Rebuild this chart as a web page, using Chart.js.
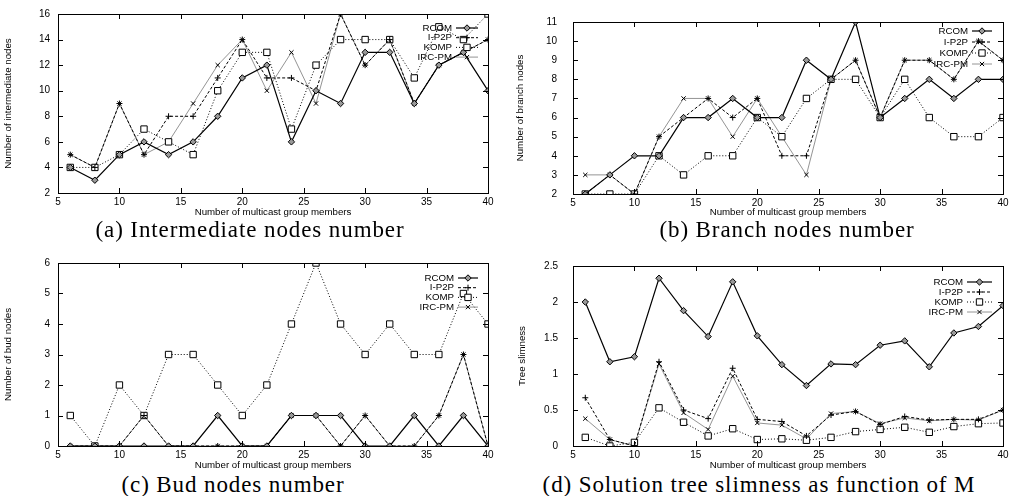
<!DOCTYPE html>
<html><head><meta charset="utf-8">
<script src="https://cdn.jsdelivr.net/npm/chart.js@4.4.0/dist/chart.umd.min.js"></script>
<style>
body{margin:0;background:#fff;width:1017px;height:496px;overflow:hidden;position:relative;}
canvas{position:absolute;}
.cap{position:absolute;font-family:"Liberation Serif",serif;font-size:23px;letter-spacing:0.9px;white-space:nowrap;color:#000;transform:translate(-50%,-50%);}
</style></head><body>
<canvas id="ca"></canvas><canvas id="cb"></canvas><canvas id="cc"></canvas><canvas id="cd"></canvas>
<div class="cap" style="left:250px;top:230px">(a) Intermediate nodes number</div>
<div class="cap" style="left:787px;top:230px">(b) Branch nodes number</div>
<div class="cap" style="left:233px;top:485px">(c) Bud nodes number</div>
<div class="cap" style="left:759px;top:485px">(d) Solution tree slimness as function of M</div>
<script>
const members = [6,8,10,12,14,16,18,20,22,24,26,28,30,32,34,36,38,40];
const seriesNames = ['RCOM','I-P2P','KOMP','IRC-PM'];
const xTicks = [5,10,15,20,25,30,35,40];
const xTitle = 'Number of multicast group members';

const interRCOM = [4,3,5,6,5,6,8,11,12,6,10,9,13,13,9,12,13,10];
const interIP2P = [5,4,9,5,8,8,11,14,11,11,10,16,12,14,9,12,13,14];
const interKOMP = [4,4,5,7,6,5,10,13,13,7,12,14,14,14,11,15,14,16];
const interIRC  = [5,4,9,5,6,9,12,14,10,13,9,16,12,14,9,12,13,14];
const interTicks = [2,4,6,8,10,12,14,16];

const branchRCOM = [2,3,4,4,6,6,7,6,6,9,8,11,6,7,8,7,8,8];
const branchIP2P = [2,3,2,5,6,7,6,7,4,4,8,9,6,9,9,8,10,9];
const branchKOMP = [2,2,2,4,3,4,4,6,5,7,8,8,6,8,6,5,5,6];
const branchIRC  = [3,3,2,5,7,7,5,7,5,3,8,9,6,9,9,8,10,9];
const branchTicks = [2,3,4,5,6,7,8,9,10,11];

const budRCOM = [0,0,0,0,0,0,1,0,0,1,1,1,0,0,1,0,1,0];
const budIP2P = [0,0,0,1,0,0,0,0,0,1,1,0,1,0,0,1,3,0];
const budKOMP = [1,0,2,1,3,3,2,1,2,4,6,4,3,4,3,3,5,4];
const budIRC  = [0,0,0,1,0,0,0,0,0,1,1,0,1,0,0,1,3,0];
const budTicks = [0,1,2,3,4,5,6];

const slimRCOM = [2.0,1.17,1.24,2.33,1.88,1.52,2.28,1.53,1.13,0.84,1.14,1.13,1.40,1.46,1.10,1.57,1.66,1.95];
const slimIP2P = [0.67,0.09,0.0,1.17,0.50,0.38,1.08,0.37,0.34,0.14,0.43,0.48,0.30,0.41,0.36,0.37,0.37,0.50];
const slimKOMP = [0.12,0.0,0.05,0.53,0.33,0.14,0.24,0.09,0.10,0.08,0.12,0.20,0.23,0.26,0.19,0.27,0.31,0.32];
const slimIRC  = [0.38,0.09,0.0,1.14,0.46,0.23,0.97,0.32,0.29,0.10,0.45,0.48,0.31,0.39,0.35,0.37,0.36,0.50];
const slimTicks = [0,0.5,1,1.5,2,2.5];

const styles = [
  {borderColor:'#000',borderWidth:1.2,borderDash:[],pointStyle:'rectRot',pointRadius:3.2,pointBackgroundColor:'#999',pointBorderColor:'#000',pointBorderWidth:1},
  {borderColor:'#000',borderWidth:1,borderDash:[3,2],pointStyle:'cross',pointRadius:3,pointBackgroundColor:'#000',pointBorderColor:'#000',pointBorderWidth:1},
  {borderColor:'#000',borderWidth:1,borderDash:[1,2],pointStyle:'rect',pointRadius:4.5,pointBackgroundColor:'#fff',pointBorderColor:'#000',pointBorderWidth:1},
  {borderColor:'#888',borderWidth:0.9,borderDash:[],pointStyle:'crossRot',pointRadius:3,pointBackgroundColor:'#000',pointBorderColor:'#000',pointBorderWidth:1}
];

function mkDatasets(arrs){
  return arrs.map((a,i)=>Object.assign({label:seriesNames[i],data:members.map((m,j)=>({x:m,y:a[j]})),tension:0,fill:false}, styles[i]));
}

function drawMark(ctx, ds, x, y){
  ctx.save();
  ctx.fillStyle = ds.pointBackgroundColor; ctx.strokeStyle = ds.pointBorderColor; ctx.lineWidth = ds.pointBorderWidth;
  ctx.setLineDash([]);
  if (Chart.helpers && Chart.helpers.drawPoint) {
    Chart.helpers.drawPoint(ctx,{pointStyle:ds.pointStyle,radius:ds.pointRadius,borderWidth:ds.pointBorderWidth,rotation:0},x,y);
  }
  ctx.restore();
}

const gpFrame = {
  id:'gpFrame',
  afterDatasetsDraw(chart, args, opts){
    const ctx = chart.ctx, a = chart.chartArea;
    const xs = chart.scales.x, ys = chart.scales.y;
    ctx.save();
    ctx.strokeStyle = '#000'; ctx.lineWidth = 1; ctx.setLineDash([]);
    ctx.strokeRect(Math.round(a.left)+0.5, Math.round(a.top)+0.5, Math.round(a.right-a.left), Math.round(a.bottom-a.top));
    ctx.beginPath();
    const L = 5;
    xs.ticks.forEach(t=>{ const px = Math.round(xs.getPixelForValue(t.value))+0.5;
      ctx.moveTo(px,a.bottom); ctx.lineTo(px,a.bottom-L); ctx.moveTo(px,a.top); ctx.lineTo(px,a.top+L); });
    ys.ticks.forEach(t=>{ const py = Math.round(ys.getPixelForValue(t.value))+0.5;
      ctx.moveTo(a.left,py); ctx.lineTo(a.left+L,py); ctx.moveTo(a.right,py); ctx.lineTo(a.right-L,py); });
    ctx.stroke();
    // legend (gnuplot style)
    ctx.font = '9.7px "Liberation Sans", Arial, sans-serif';
    ctx.textAlign = 'right'; ctx.textBaseline = 'middle';
    chart.data.datasets.forEach((ds,i)=>{
      const y = a.top + opts.top + i*opts.gap;
      const x2 = a.right - opts.right, x1 = x2 - opts.len;
      ctx.fillStyle = '#000';
      ctx.fillText(ds.label, x1 - 4, y);
      ctx.beginPath(); ctx.setLineDash(ds.borderDash); ctx.strokeStyle = ds.borderColor; ctx.lineWidth = ds.borderWidth;
      ctx.moveTo(x1,y); ctx.lineTo(x2,y); ctx.stroke(); ctx.setLineDash([]);
      drawMark(ctx, ds, (x1+x2)/2, y);
    });
    ctx.restore();
  }
};

const TFONT = {family:'"Liberation Sans", Arial, sans-serif', size:10};
const LFONT = {family:'"Liberation Sans", Arial, sans-serif', size:9.7};

function makeChart(id, P, arrs, yMin, yMax, yTicks, yTitle){
  const cv = document.getElementById(id);
  cv.width = P.w; cv.height = P.h;
  cv.style.left = P.left+'px'; cv.style.top = P.top+'px';
  cv.style.width = P.w+'px'; cv.style.height = P.h+'px';
  return new Chart(cv, {
    type:'line',
    data:{datasets: mkDatasets(arrs)},
    plugins:[gpFrame],
    options:{
      responsive:false, animation:false, devicePixelRatio:1,
      layout:{padding:{left:0, top:P.t, right:P.w-P.r, bottom:0}},
      plugins:{legend:{display:false}, tooltip:{enabled:false}, gpFrame:P.leg},
      scales:{
        x:{type:'linear', min:5, max:40, border:{display:false}, grid:{display:false, drawTicks:false},
           afterBuildTicks(s){ s.ticks = xTicks.map(v=>({value:v})); },
           afterFit(s){ s.height = P.h - P.b; },
           ticks:{color:'#000', font:TFONT, padding:P.xpad, maxRotation:0, autoSkip:false},
           title:{display:true, text:xTitle, color:'#000', font:LFONT, padding:{top:0,bottom:P.xtb}}},
        y:{type:'linear', min:yMin, max:yMax, border:{display:false}, grid:{display:false, drawTicks:false},
           afterBuildTicks(s){ s.ticks = yTicks.map(v=>({value:v})); },
           afterFit(s){ s.width = P.l; },
           ticks:{color:'#000', font:TFONT, padding:P.ypad, autoSkip:false, callback:(v)=>String(v)},
           title:{display:true, text:yTitle, color:'#000', font:LFONT, padding:{top:P.yt-5.8,bottom:0}}}
      }
    }
  });
}

makeChart('ca', {left:0, top:0, w:505, h:219, l:58, t:11, r:488, b:193, xpad:3, xtb:1, ypad:8, yt:8, leg:{top:14, gap:9.7, right:10, len:22}},
  [interRCOM, interIP2P, interKOMP, interIRC], 2, 16, interTicks, 'Number of intermediate nodes');
makeChart('cb', {left:505, top:0, w:512, h:219, l:68, t:11, r:498, b:194, xpad:3, xtb:1, ypad:16, yt:15, leg:{top:9, gap:11, right:11, len:20}},
  [branchRCOM, branchIP2P, branchKOMP, branchIRC], 2, 11, branchTicks, 'Number of branch nodes');
makeChart('cc', {left:0, top:245, w:505, h:227, l:58, t:18, r:488, b:201, xpad:3, xtb:1, ypad:8, yt:8, leg:{top:15, gap:9.7, right:10, len:20}},
  [budRCOM, budIP2P, budKOMP, budIRC], 0, 6, budTicks, 'Number of bud nodes');
makeChart('cd', {left:505, top:245, w:512, h:227, l:68, t:17, r:498, b:201, xpad:3, xtb:1, ypad:15, yt:17, leg:{top:16, gap:10, right:11, len:25}},
  [slimRCOM, slimIP2P, slimKOMP, slimIRC], 0, 2.5, slimTicks, 'Tree slimness');
</script>
</body></html>
